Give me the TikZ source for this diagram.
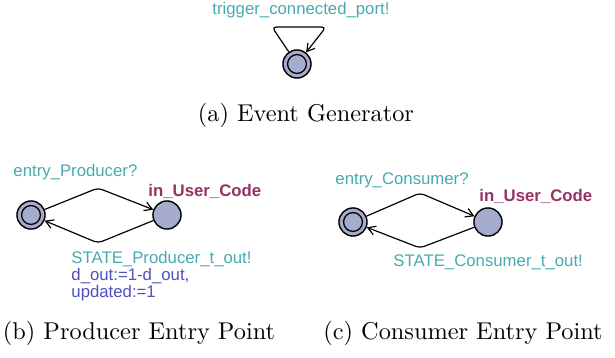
\documentclass[tikz,border=0pt]{standalone}
\usepackage{fontspec}
\usepackage{xcolor}
\usetikzlibrary{arrows.meta}

\newfontfamily\uppaalfont{Liberation Sans}

\definecolor{syncclr}{RGB}{70,170,175}
\definecolor{nameclr}{RGB}{150,50,100}
\definecolor{updclr}{RGB}{80,80,190}
\definecolor{locclr}{RGB}{165,172,205}

\tikzset{
  loc/.style={circle, draw, line width=0.6pt, fill=locclr, minimum size=11.9pt, inner sep=0pt},
  initloc/.style={loc, path picture={\draw[line width=0.55pt] (path picture bounding box.center) circle (4pt);}},
  trans/.style={line width=0.5pt, rounded corners=1.8pt, -{Straight Barb[length=3.2pt,width=3.8pt]}},
  lbl/.style={font=\uppaalfont\fontsize{7.1}{8}\selectfont, inner sep=0pt, anchor=base west},
  synclbl/.style={lbl, text=syncclr},
  updlbl/.style={lbl, text=updclr},
  namelbl/.style={lbl, text=nameclr, font=\uppaalfont\bfseries\fontsize{7.1}{8}\selectfont},
  subcap/.style={inner sep=0pt, font=\fontsize{10.3}{12}\selectfont}
}

\begin{document}
\begin{tikzpicture}[x=0.4237pt, y=-0.4237pt]
    \useasboundingbox (0,0) rectangle (615,358);

    % (a) event generator: one location with a self loop
    \node[initloc] (gen) at (297,64) {};
    \coordinate (genL) at (272,27);
    \coordinate (genR) at (326,27);
    \draw[trans] (gen) -- (genL) -- (genR) -- (gen);
    \node[synclbl] (genSync) at (212,14) {trigger\_connected\_port!};
    \node[subcap] (capA) at (306,115) {(a) Event Generator};

    % (b) producer entry point
    \node[initloc] (prodInit) at (31,215) {};
    \node[loc] (prodUser) at (167,215) {};
    \coordinate (prodUp) at (98,188);
    \coordinate (prodDown) at (98,243);
    \draw[trans] (prodInit) -- (prodUp) -- (prodUser);
    \draw[trans] (prodUser) -- (prodDown) -- (prodInit);
    \node[synclbl] (prodEntry) at (13,176) {entry\_Producer?};
    \node[namelbl] (prodName) at (148,197) {in\_User\_Code};
    \node[synclbl] (prodOut) at (71,264) {STATE\_Producer\_t\_out!};
    \node[updlbl] (prodUpdA) at (71,281) {d\_out:=1-d\_out,};
    \node[updlbl] (prodUpdB) at (71,298) {updated:=1};
    \node[subcap] (capB) at (139,333) {(b) Producer Entry Point};

    % (c) consumer entry point
    \node[initloc] (consInit) at (353,222) {};
    \node[loc] (consUser) at (488,222) {};
    \coordinate (consUp) at (420,193);
    \coordinate (consDown) at (420,248);
    \draw[trans] (consInit) -- (consUp) -- (consUser);
    \draw[trans] (consUser) -- (consDown) -- (consInit);
    \node[synclbl] (consEntry) at (335,184) {entry\_Consumer?};
    \node[namelbl] (consName) at (479,202) {in\_User\_Code};
    \node[synclbl] (consOut) at (393,267) {STATE\_Consumer\_t\_out!};
    \node[subcap] (capC) at (463,333) {(c) Consumer Entry Point};

\end{tikzpicture}
\end{document}
